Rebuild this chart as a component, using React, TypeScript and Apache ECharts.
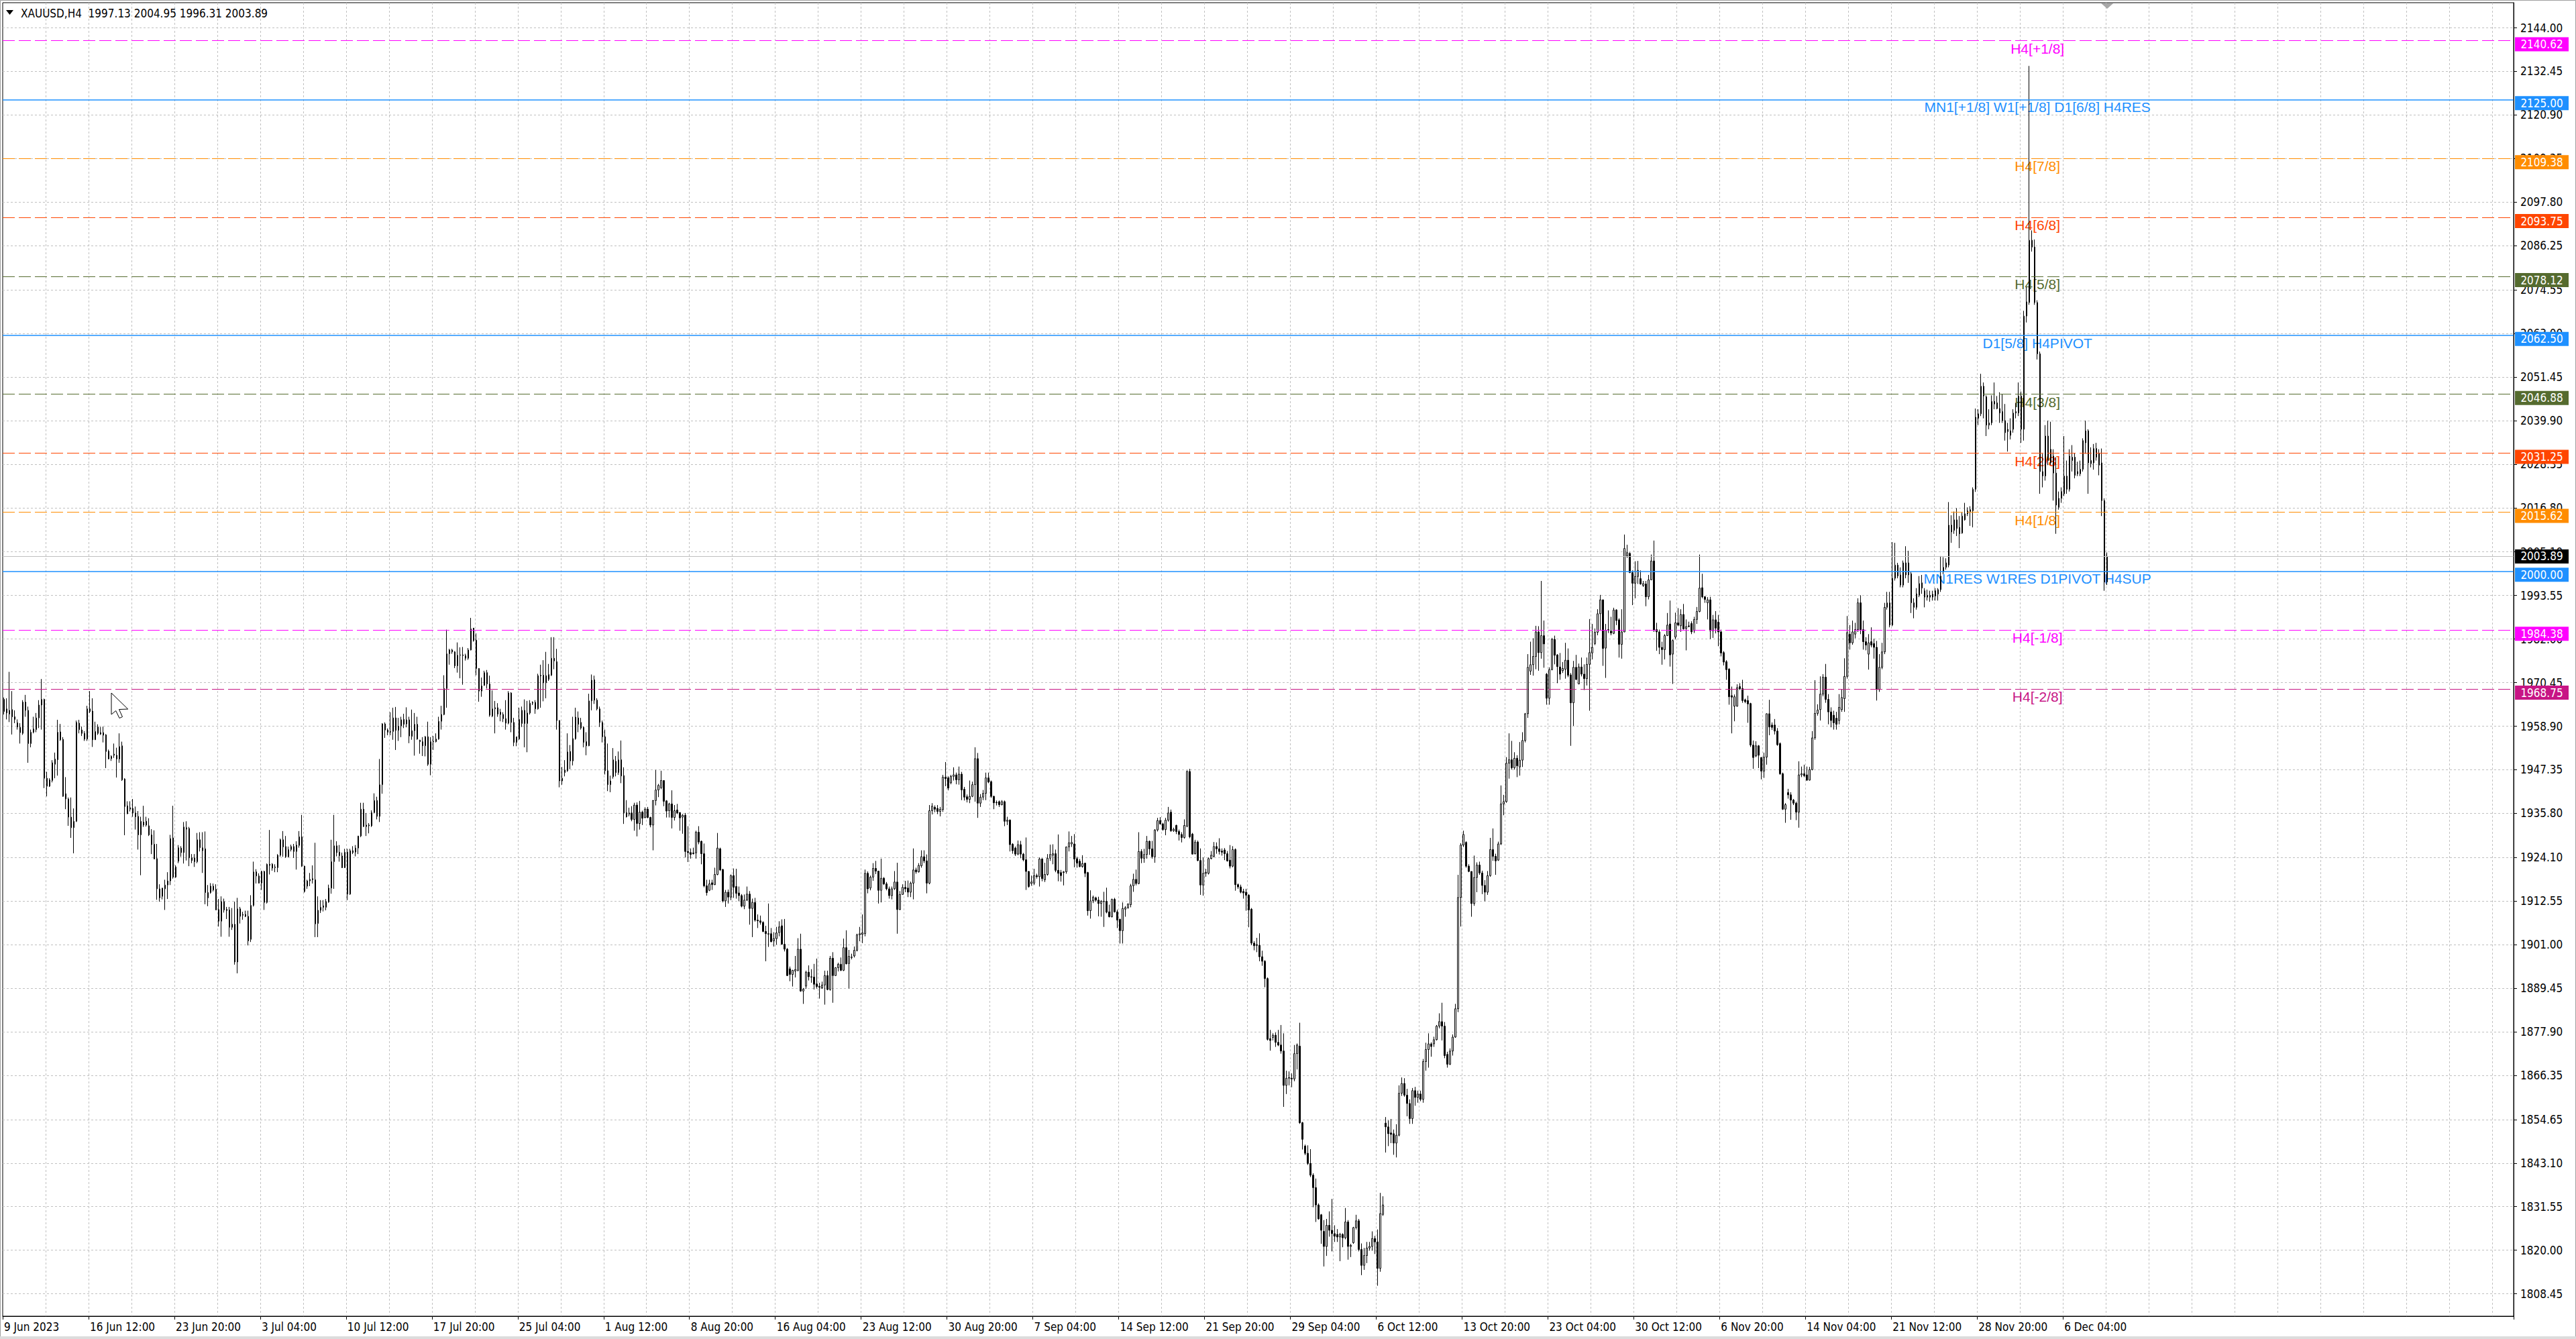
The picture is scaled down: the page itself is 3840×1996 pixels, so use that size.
import { useEffect, useRef } from "react"
import * as echarts from "echarts"

// H4 bars, one row per bar: [open, high, low, close]
const junBars: number[][] = [
  [1966.0,1966.5,1962.0,1962.8],[1963.5,1966.3,1960.7,1962.4],[1962.1,1973.3,1960.0,1963.1],[1963.3,1968.2,1956.7,1961.4],[1961.4,1963.1,1959.7,1960.7],[1959.8,1960.7,1958.0,1958.7],
  [1958.6,1959.7,1954.3,1957.2],[1957.0,1965.8,1956.6,1965.3],[1965.3,1967.2,1961.4,1963.1],[1963.1,1964.1,1949.2,1954.3],[1954.3,1958.0,1953.3,1957.3],[1957.3,1961.4,1957.0,1958.2],
  [1958.0,1962.4,1957.3,1961.1],[1961.1,1965.8,1958.4,1964.5],[1964.5,1971.4,1958.0,1966.0],[1966.0,1966.2,1942.5,1945.1],[1945.1,1946.8,1940.3,1943.0],[1943.0,1945.1,1942.8,1944.7],
  [1944.5,1949.9,1944.0,1949.2],[1948.8,1951.9,1945.1,1950.2],[1950.0,1960.6,1945.8,1957.3],[1957.4,1959.5,1955.0,1955.3],[1955.4,1956.0,1940.2,1940.3],[1941.0,1945.4,1936.9,1939.6],
  [1939.6,1940.0,1932.5,1934.8],[1934.8,1940.0,1929.3,1932.0],[1932.0,1937.1,1925.2,1933.7],[1933.7,1960.4,1933.5,1959.9],[1959.7,1960.6,1957.0,1958.0],[1957.9,1958.8,1956.3,1957.0],
  [1957.0,1957.6,1955.0,1955.5],[1955.5,1964.3,1955.0,1963.5],[1963.5,1968.2,1962.4,1962.8],[1962.9,1966.3,1953.4,1955.3],[1955.3,1960.1,1955.3,1957.5],[1958.7,1959.4,1956.6,1957.0],
  [1957.2,1958.7,1956.6,1956.8],[1957.2,1958.8,1954.6,1956.5],[1956.6,1956.8,1947.8,1952.2],[1952.3,1952.7,1950.2,1950.2],[1950.3,1951.2,1949.7,1950.9],[1951.5,1954.3,1950.5,1951.2],
  [1951.2,1953.2,1945.3,1950.2],[1950.2,1957.0,1949.2,1953.5],[1953.7,1954.8,1944.4,1944.7],[1944.9,1945.1,1930.0,1937.6],[1937.8,1939.0,1935.6,1935.7],[1936.9,1939.0,1936.3,1937.3],
  [1937.1,1939.6,1934.9,1935.9],[1935.9,1937.6,1931.5,1934.9],[1935.0,1936.4,1926.2,1930.1],[1930.1,1934.9,1919.4,1933.7],[1933.5,1937.8,1932.2,1932.7],[1933.7,1934.9,1932.3,1932.7],
  [1932.5,1934.5,1929.8,1930.1],[1930.1,1931.6,1925.0,1927.5],[1927.6,1931.3,1923.7,1923.7],[1923.8,1927.7,1912.9,1915.8],[1915.8,1917.0,1912.4,1913.4],[1913.8,1916.0,1913.0,1916.0],
  [1915.8,1918.2,1910.2,1916.8],[1916.8,1920.2,1913.1,1917.9],[1917.9,1930.1,1916.8,1929.1],[1929.3,1937.8,1918.5,1918.9],[1918.9,1922.0,1918.7,1921.6],[1923.1,1927.4,1922.6,1926.7],
  [1926.6,1927.1,1924.3,1925.4],[1925.4,1933.5,1922.5,1932.2],[1932.0,1933.7,1923.3,1931.6],[1931.8,1932.2,1921.8,1924.0],[1924.0,1925.0,1922.6,1923.3],[1924.0,1925.0,1921.6,1923.0],
  [1923.0,1930.6,1922.6,1928.8],[1928.8,1930.8,1925.7,1926.7],[1925.9,1930.8,1920.0,1926.7],[1926.4,1931.0,1911.7,1914.8],[1914.8,1916.8,1911.2,1913.4],[1914.8,1917.3,1914.5,1916.5],
  [1916.5,1917.2,1915.1,1915.5],[1915.7,1917.0,1910.2,1910.2],[1910.3,1913.1,1905.8,1907.2],[1907.2,1913.8,1903.1,1912.4],[1912.4,1913.2,1909.5,1910.2],[1910.0,1911.0,1907.8,1910.4],
  [1910.2,1911.0,1903.1,1905.6],[1906.4,1910.7,1904.9,1905.6],[1906.4,1912.4,1895.7,1896.4],[1896.4,1913.4,1893.4,1910.5],[1910.5,1911.0,1906.6,1908.5],[1909.0,1909.7,1907.6,1908.8],
  [1909.0,1910.0,1908.3,1908.5],[1908.5,1910.0,1900.8,1902.0],[1902.4,1914.1,1901.7,1911.4],[1911.4,1923.0,1911.1,1920.3],[1920.3,1921.0,1917.2,1919.2],
]

const julBars: number[][] = [
  [1919.2,1919.9,1917.2,1917.3],[1917.3,1920.6,1915.5,1920.4],[1920.4,1920.6,1910.2,1912.2],[1912.2,1922.5,1911.9,1922.3],[1922.3,1931.4,1919.6,1922.0],[1922.3,1922.6,1920.6,1921.3],
  [1921.4,1922.3,1920.2,1921.6],[1921.4,1925.0,1920.2,1924.7],[1924.7,1929.1,1924.3,1928.8],[1928.8,1931.1,1924.3,1926.9],[1927.0,1929.8,1924.0,1924.3],[1924.3,1927.0,1924.1,1926.2],
  [1926.2,1927.5,1925.7,1927.0],[1927.0,1927.7,1924.0,1925.7],[1925.7,1928.4,1920.9,1927.4],[1927.3,1931.1,1926.7,1929.6],[1929.6,1935.4,1921.6,1921.8],[1921.8,1921.9,1914.8,1915.1],
  [1916.5,1918.2,1915.8,1917.9],[1917.9,1920.0,1916.5,1918.3],[1918.5,1922.0,1917.2,1918.2],[1918.2,1928.0,1903.0,1906.5],[1906.6,1913.8,1903.0,1910.1],[1910.1,1912.8,1909.4,1910.9],
  [1911.3,1912.8,1909.8,1910.9],[1910.9,1913.1,1910.1,1912.4],[1912.3,1916.9,1912.1,1916.0],[1916.0,1928.8,1914.5,1923.0],[1923.0,1935.4,1915.8,1927.2],[1927.2,1928.4,1924.4,1925.4],
  [1925.5,1927.4,1923.0,1924.6],[1924.5,1925.4,1921.3,1921.4],[1921.4,1926.4,1921.3,1925.5],[1925.5,1926.4,1912.8,1914.4],[1914.4,1926.4,1914.2,1925.9],[1925.9,1927.1,1925.0,1925.4],
  [1925.5,1927.4,1924.4,1926.6],[1926.6,1929.8,1925.0,1929.8],[1929.8,1938.6,1929.5,1936.9],[1936.9,1938.6,1932.2,1932.3],[1932.3,1935.9,1929.8,1932.7],[1932.7,1933.2,1930.5,1932.5],
  [1932.5,1936.6,1932.2,1936.0],[1936.0,1941.1,1935.9,1939.2],[1939.2,1940.2,1934.2,1935.0],[1935.0,1950.2,1933.5,1943.4],[1943.4,1959.7,1941.0,1959.5],[1959.5,1959.9,1955.8,1957.9],
  [1957.9,1958.3,1956.5,1957.3],[1957.3,1962.6,1956.5,1957.5],[1957.5,1963.8,1955.3,1961.1],[1961.1,1964.0,1952.6,1957.8],[1957.8,1961.1,1955.0,1958.9],[1959.0,1961.4,1956.0,1960.6],
  [1960.7,1962.2,1958.4,1959.4],[1959.5,1963.9,1958.6,1960.6],[1960.6,1961.4,1954.4,1956.3],[1956.2,1963.3,1955.3,1957.7],[1957.7,1962.4,1951.1,1959.4],[1959.4,1961.4,1955.3,1955.5],
  [1955.2,1955.3,1951.6,1954.8],[1954.8,1956.0,1951.0,1953.7],[1953.7,1956.3,1950.9,1956.1],[1956.1,1960.1,1948.4,1948.8],[1948.8,1956.0,1945.9,1954.8],[1954.9,1956.3,1952.6,1954.8],
  [1954.8,1957.0,1954.6,1955.5],[1955.5,1961.4,1955.3,1960.2],[1960.2,1964.3,1958.0,1962.0],[1962.0,1972.4,1961.8,1968.9],[1968.9,1984.5,1963.8,1978.1],[1978.1,1979.4,1975.2,1979.1],
  [1979.1,1979.4,1978.1,1978.6],[1978.6,1978.8,1974.3,1974.9],[1974.9,1981.1,1973.1,1977.7],[1977.7,1979.8,1971.6,1977.8],[1977.8,1979.9,1969.9,1977.6],[1977.6,1978.1,1976.3,1976.9],
  [1976.9,1979.6,1976.5,1979.1],[1979.1,1987.6,1979.0,1984.7],[1984.9,1984.9,1981.3,1981.6],[1981.7,1983.5,1972.4,1974.2],[1974.2,1974.3,1965.4,1968.2],[1968.2,1971.8,1966.7,1969.6],
  [1969.7,1973.6,1969.6,1973.1],[1973.1,1973.8,1968.9,1970.1],[1970.1,1972.3,1961.4,1961.8],[1961.6,1968.4,1961.3,1963.5],[1963.5,1965.6,1957.0,1963.8],[1963.8,1965.0,1961.4,1962.1],
  [1962.6,1963.5,1960.2,1962.0],[1962.0,1962.6,1960.0,1960.9],[1960.9,1965.8,1958.0,1959.7],[1959.7,1968.2,1959.4,1967.7],[1967.7,1967.9,1957.3,1959.9],[1959.9,1961.1,1953.6,1954.6],
  [1954.6,1956.1,1953.6,1956.1],[1955.5,1963.8,1955.3,1960.7],[1959.6,1964.1,1958.7,1963.1],[1963.1,1966.0,1953.3,1959.6],[1959.6,1965.6,1952.0,1962.4],[1962.4,1965.8,1962.0,1965.0],
  [1965.2,1965.5,1964.5,1965.0],[1965.2,1965.8,1962.2,1963.5],[1963.5,1972.8,1963.3,1972.3],[1972.4,1975.2,1963.8,1972.2],[1972.4,1976.4,1965.5,1970.4],[1970.4,1978.6,1966.3,1972.3],
  [1971.3,1975.4,1970.9,1972.6],[1972.4,1982.5,1972.2,1976.9],[1976.9,1982.5,1974.0,1976.2],[1976.0,1979.4,1958.0,1960.4],[1960.4,1960.5,1942.7,1944.4],[1944.4,1948.1,1943.4,1945.1],
  [1946.6,1949.9,1945.6,1947.3],[1947.1,1957.0,1946.8,1952.1],[1952.2,1953.9,1947.5,1949.7],[1949.7,1961.4,1948.5,1955.6],[1955.6,1963.8,1955.3,1961.3],[1961.1,1962.8,1957.3,1959.4],
  [1959.9,1961.1,1958.0,1958.4],[1958.6,1958.8,1953.3,1954.6],[1954.8,1957.3,1951.2,1953.7],[1953.7,1967.5,1953.6,1965.6],[1965.6,1972.6,1963.1,1971.1],[1971.2,1972.3,1964.8,1965.8],
]

const augBars: number[][] = [
  [1965.8,1966.3,1963.1,1963.5],[1963.5,1964.1,1958.7,1959.9],[1959.9,1960.4,1954.6,1956.1],[1956.1,1958.0,1946.1,1947.1],[1947.1,1954.3,1941.7,1943.4],[1943.4,1945.8,1941.4,1944.4],
  [1945.5,1953.1,1945.0,1950.0],[1949.6,1951.0,1945.6,1946.6],[1946.6,1952.2,1946.0,1950.0],[1950.0,1955.1,1943.8,1945.7],[1945.8,1948.0,1933.0,1935.9],[1936.0,1939.3,1934.7,1934.9],
  [1935.9,1937.3,1935.0,1935.6],[1935.9,1937.7,1933.7,1934.2],[1934.2,1938.6,1931.2,1938.0],[1938.0,1938.7,1929.7,1933.1],[1933.1,1939.1,1931.5,1936.1],[1936.1,1936.5,1932.7,1934.5],
  [1934.7,1937.4,1934.5,1936.9],[1936.9,1937.5,1934.5,1934.7],[1934.7,1934.9,1932.1,1932.7],[1932.7,1939.3,1926.0,1939.2],[1939.2,1947.3,1937.9,1942.0],[1942.0,1943.6,1940.1,1943.2],
  [1942.6,1947.1,1942.2,1944.5],[1944.5,1944.6,1937.7,1939.0],[1939.1,1939.3,1934.7,1936.4],[1936.5,1938.6,1934.7,1938.3],[1938.3,1941.9,1931.8,1934.7],[1934.7,1938.0,1933.9,1936.5],
  [1936.7,1938.3,1935.6,1935.9],[1936.0,1936.1,1931.2,1934.6],[1934.8,1935.6,1930.4,1935.3],[1935.3,1935.9,1924.1,1925.7],[1925.7,1932.4,1922.9,1925.4],[1925.4,1926.5,1923.8,1924.9],
  [1925.3,1926.7,1924.9,1925.1],[1925.3,1931.2,1923.8,1930.8],[1930.8,1932.4,1927.6,1928.2],[1928.4,1928.6,1922.3,1925.1],[1925.1,1927.8,1916.2,1916.6],[1916.6,1918.2,1914.0,1914.8],
  [1915.4,1918.2,1915.2,1917.1],[1917.4,1918.2,1915.5,1916.9],[1916.9,1921.4,1916.8,1919.6],[1919.6,1930.6,1919.4,1926.6],[1926.4,1926.7,1920.5,1920.8],[1920.9,1921.1,1912.2,1912.6],
  [1912.6,1915.5,1911.0,1914.9],[1914.9,1915.6,1911.9,1913.6],[1913.6,1919.6,1912.8,1919.3],[1919.3,1921.2,1913.4,1916.2],[1916.4,1921.1,1913.2,1914.6],[1914.7,1916.4,1912.5,1914.0],
  [1914.0,1914.4,1910.9,1911.2],[1911.2,1914.3,1910.4,1912.8],[1912.8,1916.4,1912.6,1914.4],[1914.4,1915.2,1906.3,1910.6],[1910.6,1913.2,1903.0,1912.2],[1912.2,1913.4,1907.1,1907.5],
  [1907.5,1909.0,1905.4,1907.3],[1907.3,1908.7,1906.3,1906.9],[1906.9,1907.2,1904.3,1904.5],[1904.5,1906.0,1896.6,1903.9],[1903.9,1911.9,1900.4,1903.8],[1903.9,1905.4,1901.6,1901.8],
  [1902.0,1904.3,1900.5,1902.6],[1902.6,1905.7,1901.0,1904.1],[1904.2,1907.2,1903.2,1905.7],[1906.0,1907.7,1901.0,1901.1],[1901.1,1907.8,1899.2,1899.8],[1899.8,1900.1,1892.7,1892.8],
  [1894.6,1895.2,1891.3,1893.1],[1893.1,1894.3,1889.9,1894.2],[1894.0,1898.0,1892.3,1894.4],[1894.2,1902.7,1893.9,1899.8],[1899.8,1903.9,1888.5,1888.7],[1888.7,1889.5,1885.3,1889.2],
  [1890.0,1894.1,1889.3,1893.7],[1893.7,1895.5,1891.5,1892.5],[1892.5,1894.5,1890.9,1892.4],[1892.4,1895.9,1889.1,1890.5],[1890.6,1897.3,1889.4,1889.9],[1889.9,1890.9,1886.7,1889.7],
  [1889.5,1891.2,1889.3,1890.3],[1890.3,1894.1,1885.1,1892.8],[1892.8,1894.1,1888.9,1889.1],[1889.1,1898.0,1888.8,1897.4],[1897.4,1899.0,1885.6,1892.8],[1892.8,1895.0,1892.7,1894.9],
  [1894.9,1896.2,1893.9,1895.8],[1895.8,1897.6,1894.0,1894.2],[1894.2,1902.6,1894.0,1900.2],[1900.2,1904.8,1895.8,1895.9],[1896.0,1899.6,1889.4,1897.9],[1897.6,1898.6,1897.1,1897.7],
  [1898.0,1900.5,1897.6,1899.5],[1899.5,1903.9,1899.2,1903.6],[1903.6,1905.7,1901.9,1903.9],[1903.7,1909.0,1901.4,1904.1],[1903.9,1920.9,1903.2,1919.9],[1919.9,1920.4,1914.6,1915.8],
  [1916.0,1919.3,1915.4,1918.9],[1918.9,1922.6,1917.9,1921.2],[1921.2,1923.2,1919.7,1920.5],[1920.5,1920.5,1911.9,1915.4],[1915.4,1923.8,1912.2,1918.6],[1918.6,1918.9,1916.8,1917.1],
  [1917.1,1917.6,1915.4,1915.8],[1915.8,1916.4,1913.2,1914.0],[1914.0,1916.4,1913.0,1915.8],[1915.8,1920.5,1915.5,1917.6],[1917.6,1922.7,1903.9,1910.3],[1910.3,1915.2,1910.2,1914.3],
  [1914.3,1917.0,1914.3,1916.2],[1916.2,1917.9,1914.9,1915.8],[1916.0,1918.0,1913.6,1914.9],[1914.9,1917.7,1913.6,1917.3],[1917.3,1926.5,1913.0,1920.8],[1920.8,1921.4,1919.8,1920.3],
  [1920.3,1922.6,1920.1,1922.0],[1921.9,1926.0,1921.4,1924.3],[1924.3,1926.0,1922.6,1923.2],[1923.2,1924.9,1914.6,1917.3],[1917.3,1938.0,1917.0,1936.5],[1936.5,1938.5,1935.5,1937.7],
  [1937.4,1937.9,1936.1,1936.9],[1937.1,1938.0,1935.6,1936.3],[1936.3,1937.5,1935.0,1936.9],[1936.8,1946.0,1936.2,1945.4],[1945.4,1949.4,1943.0,1945.0],[1945.2,1945.6,1941.9,1942.5],
  [1943.9,1946.0,1943.5,1945.6],[1945.6,1948.0,1944.5,1946.0],[1946.0,1946.6,1943.5,1944.7],[1944.7,1948.2,1943.4,1946.2],[1946.2,1946.8,1939.3,1942.0],[1942.2,1942.8,1939.2,1940.1],
]

const sepBars: number[][] = [
  [1940.2,1940.8,1938.7,1939.5],[1939.5,1944.5,1938.5,1940.3],[1940.3,1944.2,1940.1,1943.4],[1943.4,1953.3,1938.9,1950.3],[1950.3,1951.8,1934.6,1938.5],[1938.5,1940.9,1937.5,1940.1],
  [1940.1,1942.0,1939.3,1941.1],[1941.1,1946.6,1939.3,1945.2],[1945.2,1946.6,1943.8,1944.1],[1944.2,1944.5,1939.9,1940.3],[1940.3,1940.5,1936.9,1938.6],[1938.7,1939.2,1937.9,1938.6],
  [1938.9,1939.2,1937.5,1938.1],[1938.1,1939.3,1937.9,1938.9],[1938.9,1939.2,1932.4,1933.7],[1933.7,1934.9,1932.7,1934.0],[1934.0,1934.2,1925.7,1927.5],[1927.6,1927.9,1925.1,1925.9],
  [1926.6,1927.0,1924.5,1925.0],[1925.0,1928.6,1924.7,1927.5],[1927.5,1928.5,1923.9,1925.0],[1925.0,1925.3,1923.1,1923.5],[1923.5,1929.4,1915.5,1920.4],[1920.4,1920.5,1916.1,1916.4],
  [1917.2,1919.3,1916.6,1917.6],[1917.3,1921.1,1916.8,1919.3],[1919.3,1919.8,1918.5,1919.0],[1919.0,1924.1,1916.4,1923.7],[1923.7,1923.9,1917.8,1918.5],[1918.2,1922.7,1917.6,1919.6],
  [1919.6,1925.0,1919.3,1923.9],[1923.9,1927.5,1923.2,1924.9],[1924.7,1927.6,1922.3,1925.1],[1925.1,1926.2,1920.2,1920.7],[1920.7,1930.2,1917.8,1919.9],[1920.1,1920.8,1917.7,1919.3],
  [1920.1,1920.5,1916.7,1920.3],[1920.3,1927.0,1919.8,1926.9],[1926.9,1931.0,1925.7,1928.0],[1927.7,1929.8,1926.9,1928.1],[1927.7,1930.3,1921.5,1923.7],[1923.8,1924.3,1921.4,1922.6],
  [1923.1,1923.7,1921.5,1921.7],[1921.7,1924.7,1921.4,1922.5],[1922.6,1922.7,1918.9,1919.9],[1920.1,1920.3,1908.7,1910.0],[1910.0,1915.4,1907.9,1912.6],[1912.6,1914.0,1912.0,1913.6],
  [1913.4,1913.7,1912.4,1912.8],[1912.8,1913.7,1908.5,1911.9],[1911.9,1912.8,1908.4,1912.5],[1912.4,1915.0,1905.7,1912.5],[1912.5,1916.1,1909.3,1909.6],[1909.7,1911.6,1908.2,1908.4],
  [1908.4,1913.2,1908.2,1913.0],[1913.0,1913.4,1909.5,1909.7],[1909.7,1910.3,1905.4,1907.5],[1907.7,1907.9,1901.3,1904.7],[1904.7,1912.2,1901.3,1910.6],[1910.4,1911.2,1908.4,1910.8],
  [1910.8,1911.9,1910.5,1911.8],[1911.6,1917.1,1910.9,1916.6],[1916.6,1919.8,1915.0,1918.3],[1918.3,1920.9,1916.7,1917.2],[1917.2,1930.8,1917.0,1925.7],[1925.7,1926.3,1922.6,1923.9],
  [1923.9,1926.4,1922.7,1924.9],[1924.9,1929.8,1923.8,1928.4],[1928.4,1928.6,1924.8,1926.4],[1926.4,1928.5,1923.8,1924.3],[1924.3,1931.6,1922.7,1931.4],[1931.4,1934.6,1931.0,1933.9],
  [1933.9,1934.8,1932.8,1933.0],[1933.0,1933.3,1931.2,1931.5],[1931.5,1934.6,1930.0,1934.0],[1934.0,1937.5,1933.6,1935.9],[1936.1,1936.8,1930.9,1931.2],[1931.2,1932.0,1930.9,1931.6],
  [1932.6,1932.8,1930.3,1931.0],[1931.0,1931.5,1928.6,1930.2],[1930.2,1930.8,1928.1,1929.4],[1929.4,1934.2,1929.1,1932.6],[1932.4,1947.2,1932.1,1946.9],[1946.9,1947.6,1929.2,1929.6],
  [1930.3,1930.6,1924.9,1925.0],[1925.1,1928.8,1924.9,1928.2],[1928.2,1928.6,1923.1,1923.3],[1923.3,1926.5,1914.2,1916.8],[1916.8,1924.1,1914.0,1919.9],[1919.9,1921.1,1919.0,1920.2],
  [1919.9,1924.1,1919.6,1923.8],[1923.8,1925.8,1923.6,1924.7],[1924.4,1928.2,1924.1,1927.0],[1927.0,1928.1,1925.1,1926.4],[1926.4,1929.2,1924.9,1925.7],[1925.8,1926.5,1924.6,1925.5],
  [1926.1,1926.6,1923.4,1925.1],[1925.1,1925.8,1923.0,1923.2],[1923.4,1927.4,1921.2,1921.8],[1921.8,1927.1,1921.5,1926.2],[1926.2,1926.5,1915.3,1916.9],[1916.9,1917.2,1915.8,1916.3],
  [1916.3,1916.9,1914.6,1914.9],[1915.1,1915.8,1913.2,1914.7],[1914.9,1915.8,1910.0,1914.1],[1914.1,1914.4,1905.6,1910.2],[1910.4,1910.7,1900.9,1901.4],[1901.4,1901.9,1899.5,1900.7],
  [1901.0,1902.8,1899.0,1900.8],[1900.8,1904.0,1896.6,1897.8],[1897.8,1899.4,1895.4,1896.6],[1896.6,1896.9,1889.7,1892.0],[1892.0,1892.3,1875.6,1875.9],[1876.1,1878.4,1872.9,1875.6],
  [1876.4,1877.5,1875.6,1877.0],[1877.0,1877.7,1873.9,1875.1],[1875.1,1878.4,1874.1,1874.4],[1874.4,1879.7,1872.1,1872.8],[1872.8,1877.5,1858.0,1863.7],[1863.7,1867.6,1861.4,1865.6],
  [1865.6,1867.4,1863.7,1865.8],[1865.6,1866.9,1863.2,1865.4],[1865.4,1874.4,1864.8,1872.1],[1872.1,1874.8,1867.9,1874.4],[1874.1,1880.3,1853.5,1853.8],[1853.8,1854.0,1846.7,1849.4],
]

const octBars: number[][] = [
  [1847.6,1848.0,1845.2,1845.7],[1845.7,1847.8,1842.6,1843.0],[1843.0,1846.8,1839.4,1839.9],[1839.9,1840.4,1831.4,1836.6],[1836.6,1839.0,1827.5,1832.0],[1832.0,1832.4,1828.1,1828.3],
  [1829.4,1829.6,1821.7,1825.3],[1825.0,1828.0,1815.7,1821.0],[1821.0,1828.3,1818.5,1826.6],[1826.6,1830.3,1823.6,1825.3],[1825.3,1833.6,1819.7,1824.4],[1824.4,1826.6,1822.2,1823.7],
  [1824.2,1825.6,1822.2,1823.5],[1823.5,1824.6,1817.1,1824.2],[1824.2,1824.5,1820.8,1823.3],[1823.3,1831.2,1822.9,1827.5],[1827.5,1828.0,1817.5,1821.0],[1821.0,1821.7,1818.2,1821.3],
  [1822.0,1826.2,1821.7,1826.0],[1826.0,1829.4,1825.5,1827.8],[1827.8,1828.3,1819.7,1820.2],[1820.2,1821.8,1813.4,1816.0],[1816.0,1820.6,1814.8,1818.6],[1818.6,1822.2,1816.6,1820.6],
  [1820.6,1822.2,1819.9,1821.0],[1821.0,1825.0,1819.9,1823.1],[1823.1,1823.8,1819.0,1822.2],[1822.2,1825.5,1810.6,1815.2],[1815.2,1835.2,1814.3,1829.7],[1829.5,1834.3,1829.1,1832.0],
  [1853.7,1855.3,1845.9,1852.7],[1852.7,1854.4,1847.6,1850.9],[1851.1,1854.8,1848.4,1850.7],[1850.9,1852.0,1845.3,1848.4],[1848.4,1853.4,1844.6,1850.5],[1850.5,1863.7,1850.2,1861.6],
  [1861.6,1865.8,1860.9,1864.2],[1864.2,1865.6,1860.7,1861.1],[1861.1,1862.8,1855.5,1858.9],[1858.9,1860.0,1853.5,1854.9],[1854.9,1863.0,1853.5,1862.3],[1862.3,1863.3,1858.3,1860.5],
  [1860.5,1862.3,1859.1,1861.4],[1861.4,1862.3,1859.5,1860.0],[1860.0,1870.7,1859.1,1870.0],[1870.0,1875.0,1867.6,1873.2],[1873.2,1877.5,1868.4,1874.7],[1874.7,1875.1,1871.3,1874.0],
  [1874.7,1876.6,1873.9,1875.8],[1875.8,1879.7,1875.6,1879.4],[1879.4,1882.8,1878.8,1880.6],[1880.6,1885.6,1875.6,1879.4],[1879.4,1880.5,1870.9,1871.6],[1871.9,1872.6,1868.4,1869.3],
  [1869.3,1873.5,1869.1,1872.8],[1872.8,1877.2,1871.6,1876.5],[1876.5,1885.3,1876.3,1884.0],[1884.0,1919.5,1883.1,1913.5],[1913.5,1927.9,1905.8,1927.4],[1927.4,1931.2,1926.9,1930.2],
  [1928.1,1928.4,1921.4,1921.8],[1921.8,1922.3,1920.2,1920.4],[1920.4,1920.4,1908.4,1911.9],[1911.9,1924.6,1911.3,1918.8],[1918.8,1922.8,1914.9,1922.1],[1922.1,1923.0,1919.5,1920.0],
  [1920.0,1920.6,1914.4,1916.7],[1916.7,1918.1,1912.5,1914.9],[1914.9,1920.5,1914.2,1919.3],[1919.3,1929.3,1919.0,1926.2],[1926.2,1931.8,1923.2,1924.4],[1924.4,1925.1,1919.5,1923.2],
  [1923.4,1928.3,1923.2,1927.7],[1927.7,1943.2,1927.4,1938.3],[1938.3,1940.7,1935.3,1938.9],[1938.9,1950.7,1938.6,1949.1],[1949.1,1957.0,1945.0,1950.0],[1950.0,1955.0,1947.4,1947.9],
  [1947.9,1952.0,1947.4,1950.4],[1950.4,1951.2,1945.4,1948.4],[1948.1,1954.7,1945.8,1949.9],[1949.9,1957.3,1948.1,1955.1],[1955.1,1962.4,1954.6,1962.2],[1962.2,1978.0,1961.1,1974.5],
  [1973.5,1981.3,1972.5,1975.2],[1975.2,1982.2,1972.3,1977.4],[1977.4,1985.5,1974.0,1983.9],[1983.9,1985.4,1973.6,1978.4],[1978.4,1997.4,1976.8,1982.9],[1982.9,1986.9,1974.4,1980.7],
  [1972.7,1973.0,1964.6,1966.3],[1966.3,1974.5,1964.6,1973.9],[1973.9,1982.3,1973.7,1981.9],[1981.9,1982.9,1975.3,1977.7],[1977.8,1978.0,1970.3,1974.7],[1974.6,1978.3,1971.2,1972.7],
  [1973.6,1975.9,1973.0,1974.2],[1974.0,1981.0,1971.5,1976.4],[1976.4,1979.5,1971.9,1972.4],[1972.5,1973.0,1953.7,1965.1],[1965.1,1976.2,1959.0,1974.5],[1974.5,1977.8,1971.1,1971.3],
  [1970.1,1975.5,1970.0,1974.6],[1974.6,1977.1,1972.1,1972.7],[1972.7,1975.3,1968.5,1971.5],[1971.5,1977.1,1969.7,1975.3],[1975.3,1987.3,1963.0,1978.4],[1978.3,1986.0,1976.6,1979.8],
  [1980.8,1984.8,1980.4,1983.8],[1983.8,1989.9,1983.0,1988.7],[1988.7,1993.7,1984.2,1992.4],[1992.4,1992.4,1974.9,1979.5],[1979.6,1986.0,1971.7,1984.3],[1984.5,1989.6,1983.6,1984.3],
  [1984.1,1987.9,1983.0,1983.6],[1983.5,1990.3,1983.3,1989.7],[1989.7,1989.9,1985.7,1986.9],[1987.1,1987.5,1977.1,1980.6],[1980.6,1989.9,1976.8,1983.9],[1983.9,2009.7,1983.8,2006.0],
  [2004.0,2007.0,2003.5,2004.9],[2004.7,2005.0,1999.5,1999.6],[1999.6,2000.2,1991.0,1996.8],[1996.8,2002.6,1992.8,1998.6],[1998.6,2002.7,1996.6,2000.2],[1998.0,2000.2,1996.4,1996.6],
  [1996.2,1997.4,1995.8,1996.7],[1996.6,1997.4,1990.7,1993.2],[1993.2,1999.0,1992.5,1997.7],[1997.7,2004.4,1997.6,2002.7],[2002.7,2008.1,1983.9,1984.3],[1984.5,1986.3,1978.9,1983.9],
]

const novBars: number[][] = [
  [1983.9,1984.5,1978.0,1979.8],[1979.8,1981.3,1975.2,1979.2],[1979.2,1983.3,1976.6,1982.9],[1982.9,1988.9,1982.8,1985.7],[1986.0,1992.2,1974.7,1977.8],[1978.0,1981.9,1970.1,1981.6],
  [1982.5,1989.0,1981.9,1986.3],[1986.3,1990.2,1985.4,1985.7],[1985.5,1989.9,1983.9,1988.5],[1988.5,1991.3,1984.5,1984.7],[1984.8,1987.2,1979.0,1985.3],[1985.5,1986.6,1985.1,1985.3],
  [1986.1,1986.7,1983.3,1983.9],[1984.2,1987.9,1983.6,1987.2],[1987.2,1990.5,1986.0,1989.3],[1989.3,2004.4,1989.1,1995.5],[1995.6,1999.3,1992.8,1993.2],[1993.2,1993.4,1991.6,1992.5],
  [1991.6,1993.1,1987.2,1992.4],[1992.4,1993.2,1982.0,1984.2],[1984.2,1988.4,1982.3,1987.1],[1987.1,1989.4,1983.5,1984.9],[1986.5,1988.4,1980.1,1983.9],[1983.9,1984.5,1977.4,1978.3],
  [1978.4,1978.8,1975.0,1975.9],[1976.0,1976.4,1971.2,1973.9],[1974.0,1974.3,1964.6,1966.7],[1967.0,1969.4,1957.0,1966.6],[1964.2,1967.3,1960.2,1966.7],[1964.2,1970.0,1964.1,1969.1],
  [1969.4,1970.3,1968.5,1968.8],[1968.9,1971.2,1965.1,1965.7],[1965.9,1966.2,1965.0,1965.4],[1965.7,1967.0,1959.8,1964.8],[1964.9,1965.1,1953.4,1953.9],[1953.9,1955.1,1947.6,1950.6],
  [1951.0,1954.9,1950.7,1953.7],[1953.7,1953.9,1947.8,1951.2],[1950.6,1950.7,1944.8,1947.0],[1947.0,1951.9,1945.2,1950.7],[1950.7,1962.3,1948.7,1962.2],[1962.2,1965.9,1956.5,1958.7],
  [1959.2,1959.9,1957.9,1958.6],[1959.2,1960.8,1956.7,1957.6],[1957.6,1958.4,1953.7,1954.0],[1954.3,1954.6,1946.0,1946.3],[1946.3,1946.6,1936.7,1936.9],[1936.9,1938.5,1933.3,1938.1],
  [1941.3,1942.3,1939.7,1940.7],[1940.7,1941.4,1934.1,1939.3],[1939.3,1939.6,1938.0,1938.5],[1938.5,1938.9,1934.0,1936.1],[1936.1,1949.6,1932.0,1946.0],[1946.0,1948.2,1945.4,1946.3],
  [1946.3,1948.7,1945.4,1945.8],[1946.0,1948.2,1944.4,1944.6],[1944.6,1948.1,1944.5,1947.4],[1947.4,1957.6,1947.2,1955.8],[1955.8,1971.1,1955.3,1962.3],[1962.3,1964.7,1961.7,1963.2],
  [1963.3,1972.1,1960.4,1967.4],[1967.4,1972.7,1966.8,1971.9],[1971.9,1975.4,1965.1,1966.0],[1966.0,1967.4,1959.4,1962.7],[1962.7,1963.9,1958.6,1960.4],[1961.8,1963.0,1958.0,1959.8],
  [1961.0,1962.7,1958.0,1959.4],[1960.4,1967.4,1959.4,1963.9],[1963.3,1968.6,1962.7,1966.5],[1966.2,1976.9,1962.7,1972.1],[1972.1,1988.1,1971.5,1983.7],[1983.3,1985.7,1979.2,1981.0],
  [1981.0,1986.9,1980.5,1983.9],[1983.3,1986.3,1982.2,1984.5],[1984.5,1992.8,1983.9,1991.6],[1991.6,1993.6,1983.3,1984.5],[1984.5,1986.9,1979.2,1981.3],[1981.3,1982.5,1979.0,1980.4],
  [1978.0,1983.3,1973.9,1981.0],[1981.3,1985.1,1979.8,1980.4],[1980.8,1982.1,1976.8,1979.8],[1979.8,1981.5,1965.7,1968.6],[1968.6,1978.0,1968.0,1974.5],[1974.5,1981.0,1974.0,1978.6],
  [1978.6,1991.6,1978.0,1990.4],[1990.4,1994.5,1989.8,1991.6],[1991.6,1994.5,1985.1,1985.7],[1985.7,2007.7,1985.4,1998.1],[1998.1,2007.5,1997.5,2001.6],[2001.6,2002.2,1998.1,1998.7],
  [1999.0,2001.0,1995.7,1996.3],[1996.3,2002.8,1995.7,2002.2],[1999.0,2006.6,1998.1,2002.2],[2002.2,2005.4,1996.9,1999.0],[1999.3,1999.8,1988.9,1991.6],[1991.6,1992.8,1987.5,1990.4],
  [1990.4,1995.5,1989.8,1994.0],[1993.6,1998.7,1993.1,1996.7],[1996.9,1999.0,1994.0,1995.5],[1994.8,1995.5,1990.4,1993.1],[1993.6,1995.1,1992.2,1993.1],[1993.6,1994.8,1991.9,1993.1],
  [1993.1,1994.8,1992.2,1993.9],[1994.8,1995.5,1992.2,1993.4],[1993.9,1995.5,1992.2,1995.1],[1995.1,2004.0,1994.5,1998.7],[1999.8,2003.7,1999.2,2001.0],[2001.0,2003.4,2000.4,2002.2],
  [2001.6,2018.3,2001.0,2012.2],[2012.2,2014.8,2007.5,2010.4],[2010.8,2015.8,2009.9,2013.6],[2013.6,2016.7,2009.3,2011.3],[2011.6,2014.6,2006.1,2009.9],[2010.1,2015.5,2009.9,2014.6],
  [2013.6,2018.1,2013.4,2015.2],[2015.2,2016.9,2014.6,2016.0],[2015.8,2017.2,2012.0,2016.3],[2016.0,2022.2,2011.6,2021.7],[2021.7,2043.1,2021.0,2040.8],[2041.7,2042.9,2038.7,2040.5],
  [2041.7,2052.3,2041.1,2049.0],[2049.0,2050.0,2040.5,2046.4],[2046.2,2046.6,2035.8,2038.7],[2038.7,2042.9,2037.6,2039.3],[2039.3,2046.6,2038.7,2045.0],[2045.0,2050.0,2042.9,2044.3],
  [2044.6,2046.4,2042.9,2043.1],[2043.1,2047.4,2039.3,2041.9],[2042.3,2047.0,2039.3,2039.9],[2039.9,2044.3,2034.6,2036.7],[2037.6,2039.3,2031.7,2037.0],[2037.2,2040.5,2034.9,2036.0],
]

const decBars: number[][] = [
  [2037.6,2042.9,2036.7,2041.9],[2041.9,2044.6,2040.5,2042.3],[2041.9,2050.0,2041.1,2046.4],[2046.4,2047.6,2034.0,2037.6],[2037.6,2069.0,2034.6,2067.6],[2067.6,2075.3,2065.9,2071.4],
  [2071.2,2133.9,2070.6,2087.7],[2087.7,2090.3,2084.7,2085.9],[2085.9,2087.9,2070.6,2071.2],[2071.2,2071.8,2056.1,2057.6],[2057.6,2058.2,2020.5,2026.4],[2026.4,2031.1,2022.2,2025.2],
  [2025.2,2038.7,2024.0,2035.8],[2035.8,2039.9,2028.1,2029.3],[2032.3,2039.6,2028.1,2028.7],[2030.5,2032.3,2018.7,2026.0],[2026.0,2030.2,2009.9,2017.5],[2016.9,2021.1,2016.3,2019.3],
  [2019.3,2022.2,2018.1,2021.1],[2020.5,2035.8,2019.9,2025.2],[2025.2,2029.3,2020.5,2021.7],[2021.7,2032.3,2021.1,2030.5],[2029.3,2033.4,2026.4,2030.2],[2030.2,2031.3,2024.6,2025.4],
  [2026.4,2029.0,2025.2,2025.8],[2025.8,2029.3,2025.2,2027.0],[2027.0,2035.2,2026.4,2034.6],[2034.0,2039.9,2031.1,2037.2],[2037.2,2037.6,2020.5,2028.7],[2029.3,2032.8,2027.5,2028.5],
  [2028.7,2033.7,2026.9,2032.5],[2032.5,2034.0,2029.3,2030.2],[2031.3,2032.3,2025.4,2028.1],[2028.7,2032.5,2014.6,2018.7],[2018.7,2019.3,1994.8,1997.1],[1997.13,2004.95,1996.31,2003.89],
]

// time-axis labels, one every 32 bars starting at bar 0
const timeLabels = [
  "9 Jun 2023", "16 Jun 12:00", "23 Jun 20:00", "3 Jul 04:00", "10 Jul 12:00", "17 Jul 20:00", "25 Jul 04:00",
  "1 Aug 12:00", "8 Aug 20:00", "16 Aug 04:00", "23 Aug 12:00", "30 Aug 20:00", "7 Sep 04:00", "14 Sep 12:00",
  "21 Sep 20:00", "29 Sep 04:00", "6 Oct 12:00", "13 Oct 20:00", "23 Oct 04:00", "30 Oct 12:00", "6 Nov 20:00",
  "14 Nov 04:00", "21 Nov 12:00", "28 Nov 20:00", "6 Dec 04:00",
]

// price scale labels as printed on the right axis
const priceTicks = [
  1808.45, 1820.0, 1831.55, 1843.1, 1854.65, 1866.35, 1877.9, 1889.45, 1901.0, 1912.55,
  1924.1, 1935.8, 1947.35, 1958.9, 1970.45, 1982.0, 1993.55, 2005.1, 2016.8, 2028.35,
  2039.9, 2051.45, 2063.0, 2074.55, 2086.25, 2097.8, 2109.35, 2120.9, 2132.45, 2144.0,
]

// Murrey / pivot levels
const levelPrices = [2140.62, 2125.0, 2109.38, 2093.75, 2078.12, 2062.5, 2046.88, 2031.25, 2015.62, 2000.0, 1984.38, 1968.75]
const levelNames = [
  "H4[+1/8]", "MN1[+1/8] W1[+1/8] D1[6/8] H4RES", "H4[7/8]", "H4[6/8]", "H4[5/8]", "D1[5/8] H4PIVOT",
  "H4[3/8]", "H4[2/8]", "H4[1/8]", "MN1RES W1RES D1PIVOT H4SUP", "H4[-1/8]", "H4[-2/8]",
]

const LEVEL_STYLE = [
  { color: "#ff00ff", solid: false }, { color: "#1e90ff", solid: true }, { color: "#ff8c00", solid: false },
  { color: "#ff4500", solid: false }, { color: "#556b2f", solid: false }, { color: "#1e90ff", solid: true },
  { color: "#556b2f", solid: false }, { color: "#ff4500", solid: false }, { color: "#ff8c00", solid: false },
  { color: "#1e90ff", solid: true }, { color: "#ff00ff", solid: false }, { color: "#c71585", solid: false },
]

const SLOTS = 936 // bar slots across the plot, including the empty shift area
const LABEL_BAR = 758
const AXIS_FONT = "'DejaVu Sans Condensed', 'Liberation Sans', Arial, sans-serif"
const TEXT_FONT = "'Liberation Sans', Arial, sans-serif"
const GRID = { left: 4, right: 93, top: 4, bottom: 34 }

export default function App() {
  const chartRef = useRef<HTMLDivElement>(null)

  useEffect(() => {
    if (!chartRef.current) return
    const chart = echarts.init(chartRef.current, null, { renderer: "svg" })

    const bars = [...junBars, ...julBars, ...augBars, ...sepBars, ...octBars, ...novBars, ...decBars]
    const last = bars[bars.length - 1]
    const bid = last[3]
    const categories = Array.from({ length: SLOTS }, (_, i) => String(i))
    const candleData = bars.map(([o, h, l, c]) => [o, c, l, h])
    const showLabel = (i: number) => i % 32 === 0 && i / 32 < timeLabels.length

    chart.setOption({
      animation: false,
      backgroundColor: "#ffffff",
      grid: { ...GRID, show: true, borderColor: "#000000", borderWidth: 1, backgroundColor: "transparent" },
      xAxis: {
        type: "category",
        data: categories,
        boundaryGap: true,
        axisLine: { show: true, lineStyle: { color: "#000000" } },
        axisTick: { show: true, interval: showLabel, length: 5, lineStyle: { color: "#000000" } },
        axisLabel: {
          interval: showLabel,
          formatter: (v: string) => timeLabels[Number(v) / 32] ?? "",
          align: "left",
          margin: 7,
          color: "#000000",
          fontSize: 17,
          fontFamily: AXIS_FONT,
        },
        splitLine: {
          show: true,
          interval: (i: number) => i % 16 === 0 && i > 0,
          lineStyle: { color: "#c0c0c0", type: [3, 3], width: 1 },
        },
      },
      yAxis: {
        type: "value",
        position: "right",
        min: 1802.52,
        max: 2150.67,
        scale: true,
        axisLine: { show: true, lineStyle: { color: "#000000" } },
        axisTick: { show: true, customValues: priceTicks, length: 5, lineStyle: { color: "#000000" } },
        axisLabel: {
          customValues: priceTicks,
          formatter: (v: number) => v.toFixed(2),
          margin: 10,
          color: "#000000",
          fontSize: 17,
          fontFamily: AXIS_FONT,
        },
        splitLine: { show: true, lineStyle: { color: "#c0c0c0", type: [3, 3], width: 1 } },
      },
      series: [
        {
          type: "line",
          data: [],
          silent: true,
          z: 1,
          markLine: {
            silent: true,
            symbol: "none",
            label: { show: false },
            animation: false,
            data: [
              { yAxis: bid, lineStyle: { color: "#c0c0c0", type: "solid", width: 1 } },
              ...levelPrices.map((p, k) => ({
                yAxis: p,
                lineStyle: {
                  color: LEVEL_STYLE[k].color,
                  type: LEVEL_STYLE[k].solid ? "solid" : [18, 6],
                  width: LEVEL_STYLE[k].solid ? 1.5 : 1.2,
                },
              })),
            ],
          },
        },
        {
          type: "candlestick",
          data: candleData,
          large: false,
          barWidth: 2,
          z: 3,
          itemStyle: {
            color: "#ffffff",
            color0: "#000000",
            borderColor: "#000000",
            borderColor0: "#000000",
            borderWidth: 1,
          },
        },
      ],
    })

    // overlay: level names, price tags, header, window frame
    const tagX = 3840 - GRID.right + 2
    const elements: any[] = []
    levelPrices.forEach((p, k) => {
      const [x, y] = chart.convertToPixel({ gridIndex: 0 }, [LABEL_BAR, p]) as number[]
      elements.push({
        type: "text",
        z: 2,
        x,
        y: y + 1,
        style: {
          text: levelNames[k],
          fill: LEVEL_STYLE[k].color,
          font: `21px ${TEXT_FONT}`,
          align: "center",
          verticalAlign: "top",
          textAlign: "center",
          textVerticalAlign: "top",
        },
      })
    })
    const tag = (price: number, bg: string, offset: number) => {
      const y = (chart.convertToPixel({ yAxisIndex: 0 }, price) as number) + offset
      elements.push({
        type: "rect",
        z: 20,
        shape: { x: tagX, y: y - 10.5, width: 80, height: 21 },
        style: { fill: bg },
      })
      elements.push({
        type: "text",
        z: 21,
        x: tagX + 40,
        y,
        style: {
          text: price.toFixed(2),
          fill: "#ffffff",
          font: `17px ${AXIS_FONT}`,
          align: "center",
          verticalAlign: "middle",
          textAlign: "center",
          textVerticalAlign: "middle",
        },
      })
    }
    levelPrices.forEach((p, k) => tag(p, LEVEL_STYLE[k].color, 5.5))
    tag(bid, "#000000", 0)

    const lastX = chart.convertToPixel({ xAxisIndex: 0 }, bars.length - 1) as number
    elements.push(
      {
        type: "polygon",
        z: 20,
        shape: { points: [[lastX - 9, 5], [lastX + 9, 5], [lastX, 13]] },
        style: { fill: "#a8a8a8" },
      },
      {
        type: "polygon",
        z: 20,
        shape: { points: [[9, 15], [20, 15], [14.5, 22]] },
        style: { fill: "#000000" },
      },
      {
        type: "text",
        z: 20,
        x: 31,
        y: 19.5,
        style: {
          text: `XAUUSD,H4  ${last.map((v) => v.toFixed(2)).join(" ")}`,
          fill: "#000000",
          font: `17px ${AXIS_FONT}`,
          align: "left",
          verticalAlign: "middle",
          textAlign: "left",
          textVerticalAlign: "middle",
        },
      },
      {
        type: "polygon",
        z: 20,
        shape: {
          points: [[166, 1033], [166, 1065], [172.7, 1059.5], [178, 1070.5], [182.5, 1068.5], [177.5, 1057.5], [190.7, 1057]],
        },
        style: { fill: "#ffffff", stroke: "#000000", lineWidth: 1 },
      },
      {
        type: "rect",
        z: 30,
        silent: true,
        shape: { x: 0.5, y: 0.5, width: 3839, height: 1995 },
        style: { fill: "none", stroke: "#a0a0a0", lineWidth: 1 },
      },
      {
        type: "rect",
        z: 30,
        silent: true,
        shape: { x: 0, y: 1992, width: 3840, height: 4 },
        style: { fill: "#dcdcdc" },
      },
    )
    chart.setOption({ graphic: { elements } })

    const handleResize = () => chart.resize()
    window.addEventListener("resize", handleResize)

    return () => {
      window.removeEventListener("resize", handleResize)
      chart.dispose()
    }
  }, [])

  return (
    <div
      ref={chartRef}
      style={{ position: "fixed", left: 0, top: 0, width: "3840px", height: "1996px", background: "#ffffff" }}
    />
  )
}
